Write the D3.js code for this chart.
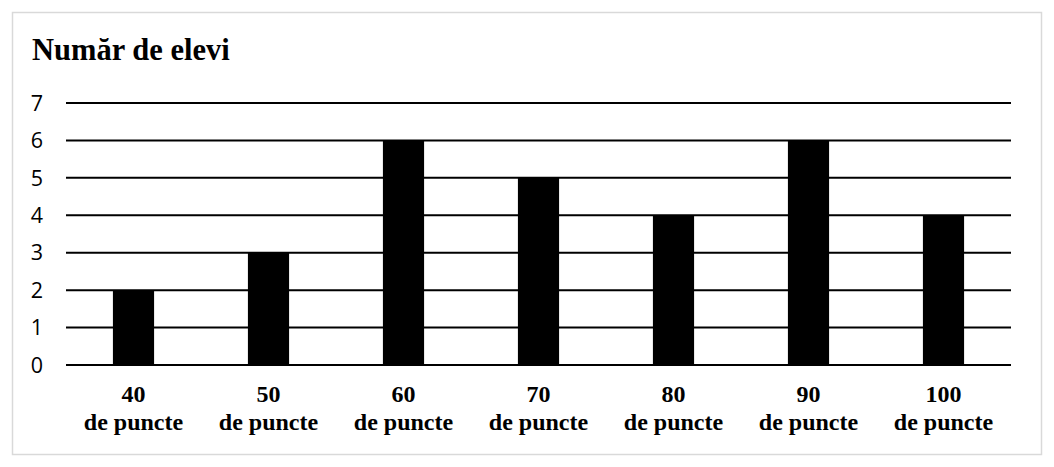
<!DOCTYPE html>
<html>
<head>
<meta charset="utf-8">
<script src="https://cdn.jsdelivr.net/npm/d3@7"></script>
<style>
  body { margin: 0; background: #fff; }
  svg { display: block; }
</style>
</head>
<body>
<svg width="1054" height="467"></svg>
<script>
const categories = ["40", "50", "60", "70", "80", "90", "100"];
const values = [2, 3, 6, 5, 4, 6, 4];
const yTicks = [0, 1, 2, 3, 4, 5, 6, 7];
const title = "Număr de elevi";
const unit = "de puncte";

const svg = d3.select("svg");

// outer frame
svg.append("rect")
  .attr("x", 12.5).attr("y", 12.5)
  .attr("width", 1029).attr("height", 442)
  .attr("fill", "#fff")
  .attr("stroke", "#d9d9d9")
  .attr("stroke-width", 1.5);

svg.append("text")
  .attr("x", 32).attr("y", 60)
  .attr("font-family", "'Liberation Serif', 'Times New Roman', serif")
  .attr("font-weight", "bold")
  .attr("font-size", 30.5)
  .text(title);

const plotL = 66, plotR = 1011, plotT = 103, plotB = 365;

const x = d3.scaleBand()
  .domain(categories)
  .range([plotL, plotR])
  .paddingInner(0.695)
  .paddingOuter(0.3475);

const y = d3.scaleLinear()
  .domain([0, 7])
  .range([plotB, plotT]);

// gridlines
svg.append("g")
  .selectAll("line")
  .data(yTicks)
  .enter().append("line")
  .attr("x1", plotL).attr("x2", plotR)
  .attr("y1", d => y(d)).attr("y2", d => y(d))
  .attr("stroke", "#000")
  .attr("stroke-width", 2);

// y labels
svg.append("g")
  .selectAll("text")
  .data(yTicks)
  .enter().append("text")
  .attr("x", 43)
  .attr("y", d => y(d))
  .attr("dy", "0.36em")
  .attr("text-anchor", "end")
  .attr("font-family", "'Open Sans', sans-serif")
  .attr("font-size", 21.5)
  .text(d => d);

// bars
svg.append("g")
  .selectAll("rect")
  .data(values)
  .enter().append("rect")
  .attr("x", (d, i) => x(categories[i]))
  .attr("width", x.bandwidth())
  .attr("y", d => y(d))
  .attr("height", d => plotB - y(d))
  .attr("fill", "#000");

// x labels
const lab = svg.append("g")
  .selectAll("text")
  .data(categories)
  .enter().append("text")
  .attr("text-anchor", "middle")
  .attr("font-family", "'Liberation Serif', 'Times New Roman', serif")
  .attr("font-weight", "bold")
  .attr("font-size", 24);

lab.append("tspan")
  .attr("x", d => x(d) + x.bandwidth() / 2)
  .attr("y", 402)
  .text(d => d);

lab.append("tspan")
  .attr("x", d => x(d) + x.bandwidth() / 2)
  .attr("y", 430)
  .text(unit);
</script>
</body>
</html>
